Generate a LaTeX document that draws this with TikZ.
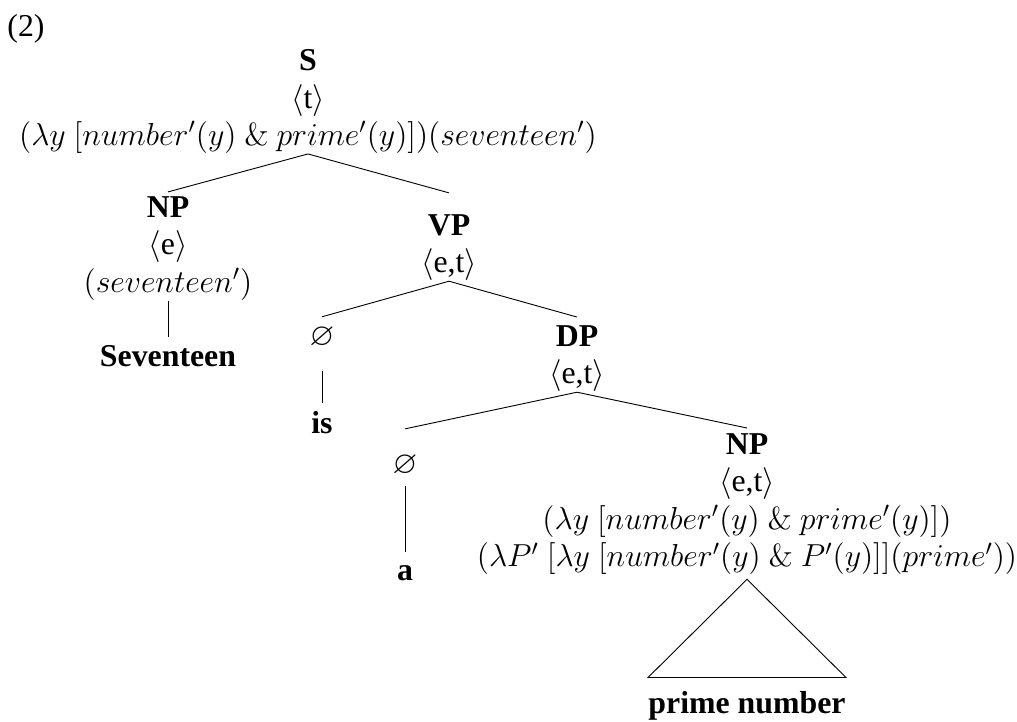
\documentclass[tikz,border=0pt]{standalone}
\usepackage{fix-cm}
\usepackage{amsmath,amssymb}
\usepackage[no-math]{fontspec}
\setmainfont{Liberation Serif}
\usepackage{tikz}
\usetikzlibrary{positioning,calc}
\newcommand\treefont{\fontsize{14}{16.5}\selectfont}
\tikzset{
  constituent/.style={align=center,inner sep=0pt,font=\treefont},
  leaf/.style={inner sep=0pt,anchor=base,font=\treefont\bfseries},
  branch/.style={thin,black},
  stem/.style={thin,black},
  roof/.style={thin,black}
}

\begin{document}
\begin{tikzpicture}[x=0.44pt, y=-0.44pt]
  \useasboundingbox (0,0) rectangle (1017,721);
  % example number
  \node[constituent,anchor=north west] (exno) at (7,14) {(2)};
  % root
  \node[constituent,anchor=north] (S) at (308,49)
    {\textbf{S}\\ $\langle$t$\rangle$\\ $(\lambda y\ [number'(y)\ \&\ prime'(y)])(seventeen')$};
  % subject
  \node[constituent,anchor=north] (NPs) at (168,196)
    {\textbf{NP}\\ $\langle$e$\rangle$\\ $(seventeen')$};
  \node[leaf] (seventeen) at (168,366) {Seventeen};
  % predicate
  \node[constituent,anchor=north] (VP) at (449,214)
    {\textbf{VP}\\ $\langle$e,t$\rangle$};
  \node[constituent,anchor=north] (nullV) at (322,327) {$\varnothing$};
  \node[leaf] (is) at (322,433) {is};
  \node[constituent,anchor=north] (DP) at (577,325)
    {\textbf{DP}\\ $\langle$e,t$\rangle$};
  \node[constituent,anchor=north] (nullD) at (405,455) {$\varnothing$};
  \node[leaf] (a) at (405,580) {a};
  \node[constituent,anchor=north] (NPo) at (747,433)
    {\textbf{NP}\\ $\langle$e,t$\rangle$\\
     $(\lambda y\ [number'(y)\ \&\ prime'(y)])$\\
     $(\lambda P'\ [\lambda y\ [number'(y)\ \&\ P'(y)]](prime'))$};
  \node[leaf] (pn) at (747,713) {prime number};

  % branches
  \draw[branch] (S.south) -- ([yshift=1.8pt]NPs.north);
  \draw[branch] (S.south) -- ([yshift=9.3pt]VP.north);
  \draw[branch] (VP.south) -- ([yshift=4.5pt]nullV.north);
  \draw[branch] (VP.south) -- ([yshift=3.5pt]DP.north);
  \draw[branch] (DP.south) -- ([yshift=11.5pt]nullD.north);
  \draw[branch] (DP.south) -- ([yshift=2.2pt]NPo.north);
  % unary lines
  \draw[stem,shorten >=3.5pt] (NPs) -- (seventeen);
  \draw[stem,shorten <=9.7pt,shorten >=3.5pt] (nullV) -- (is);
  \draw[stem,shorten <=4pt,shorten >=5.7pt] (nullD) -- (a);
  % roof
  \draw[roof] ([yshift=-1.8pt]NPo.south) -- ([yshift=5.7pt]pn.north west) -- ([yshift=5.7pt]pn.north east) -- cycle;
\end{tikzpicture}
\end{document}
